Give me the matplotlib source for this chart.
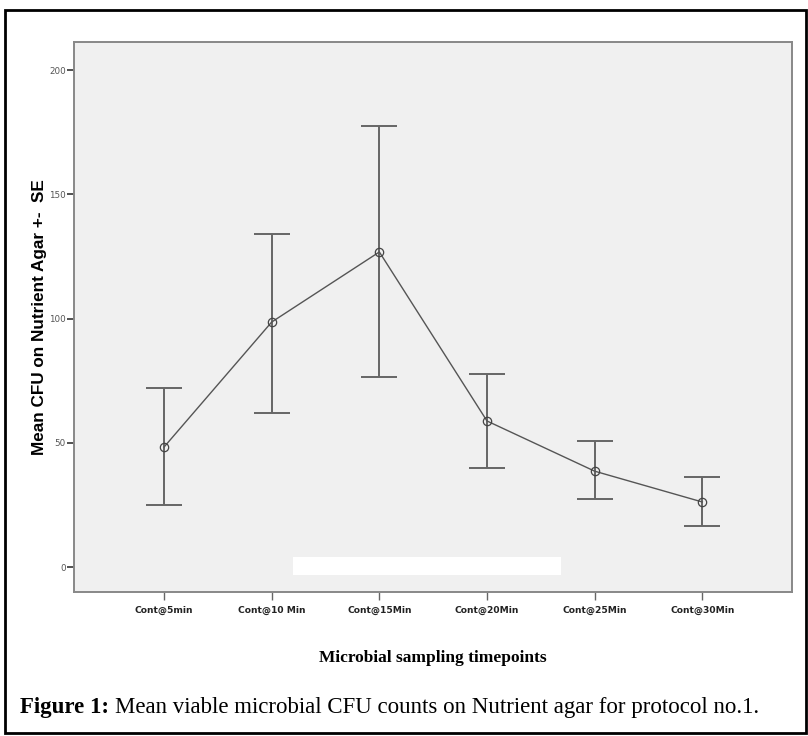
import matplotlib
matplotlib.use('Agg')
import matplotlib.pyplot as plt
import matplotlib.patches as patches

# Valores (media +- SE)
labels = ['Cont@5min', 'Cont@10 Min', 'Cont@15Min', 'Cont@20Min', 'Cont@25Min', 'Cont@30Min']
mean_cfu = [48.3, 98.6, 126.8, 58.8, 38.6, 26.2]
upper = [72.0, 134.1, 177.6, 77.7, 50.7, 36.2]
lower = [24.9, 62.0, 76.3, 39.8, 27.4, 16.5]
yticks = [0, 50, 100, 150, 200]

narrow = ['Liberation Sans Narrow', 'DejaVu Sans']
serif = ['Liberation Serif', 'DejaVu Serif']

x = list(range(len(labels)))
err_lo = [m - l for m, l in zip(mean_cfu, lower)]
err_hi = [u - m for m, u in zip(mean_cfu, upper)]

fig = plt.figure(figsize=(8.08, 7.36), dpi=100)
ax = fig.add_axes([0.0916, 0.1957, 0.889, 0.7473])
ax.set_facecolor('#f0f0f0')

ax.errorbar(x, mean_cfu, yerr=[err_lo, err_hi], fmt='none', ecolor='#666666',
            elinewidth=1.4, capsize=13, capthick=1.4, zorder=2)
ax.plot(x, mean_cfu, color='#555555', linewidth=1.0, marker='o', markersize=6,
        markerfacecolor='none', markeredgecolor='#444444', markeredgewidth=0.9, zorder=3)

# parche blanco que tapa algo en la figura original
ax.add_patch(patches.Rectangle((1.2, -3.2), 2.49, 7.2, facecolor='white',
                               edgecolor='none', zorder=4))

ax.set_xlim(-0.836, 5.836)
ax.set_ylim(-10, 211.3)
ax.set_xticks(x)
ax.set_xticklabels(labels, family=narrow, fontsize=6.6, fontweight='bold', color='#222222')
ax.set_yticks(yticks)
ax.set_yticklabels([str(v) for v in yticks], family=narrow, fontsize=6.3, color='#555555')
ax.tick_params(axis='x', length=6, width=1, color='#666666', pad=4)
ax.tick_params(axis='y', length=5, width=1.2, color='#333333', pad=1)

for s in ax.spines.values():
    s.set_color('#888888')
    s.set_linewidth(1.4)

ax.set_ylabel('Mean CFU on Nutrient Agar +-  SE', family=['Liberation Sans', 'DejaVu Sans'],
              fontsize=12.3, fontweight='bold')
ax.yaxis.set_label_coords(-0.038, 0.5)
ax.set_xlabel('Microbial sampling timepoints', family=serif, fontsize=12.5,
              fontweight='bold')
ax.xaxis.set_label_coords(0.5, -0.105)

# texto del pie de figura
ypos = 1 - 707 / 736
t1 = fig.text(20 / 808, ypos, 'Figure 1:', family=serif, fontsize=16.5,
              fontweight='bold', va='center', ha='left')
fig.canvas.draw()
bb = t1.get_window_extent()
fig.text((bb.x1 + 6) / 808, ypos,
         'Mean viable microbial CFU counts on Nutrient agar for protocol no.1.',
         family=serif, fontsize=16.5, va='center', ha='left')

# marco exterior
fig.add_artist(patches.Rectangle((5 / 808, 1 - 733 / 736), 801 / 808, 723 / 736,
                                 transform=fig.transFigure, fill=False,
                                 edgecolor='black', linewidth=2))

fig.savefig('out.png', dpi=100)
